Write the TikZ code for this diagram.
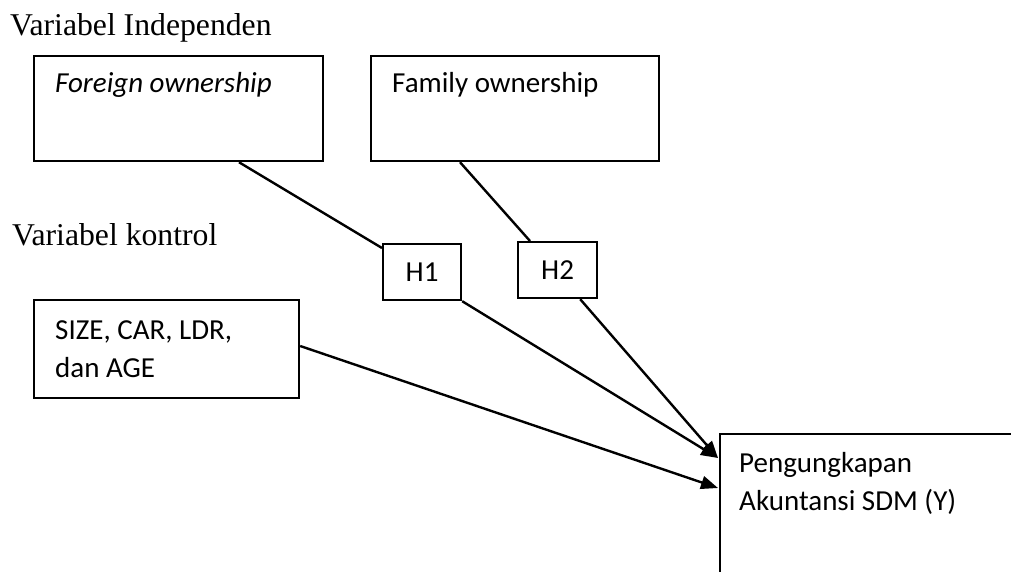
\documentclass[tikz,border=0pt]{standalone}
\usepackage{fontspec}
\setmainfont{Liberation Serif}
\newfontfamily\calfont{Carlito}
\usetikzlibrary{arrows.meta,calc}
\begin{document}
\begin{tikzpicture}[x=1pt,y=-1pt,
  box/.style={draw, line width=2.2pt, rectangle, inner sep=0pt, anchor=north west},
  btxt/.style={font=\calfont\fontsize{29}{38}\selectfont, inner sep=0pt, anchor=base west, align=left},
  htxt/.style={font=\calfont\fontsize{29}{38}\selectfont},
  ttl/.style={font=\fontsize{31.7}{38}\selectfont, inner sep=0pt, anchor=base west},
  conn/.style={line width=2.4pt},
  arr/.style={line width=2.4pt, -{Triangle[length=17pt,width=13pt]}}]
\useasboundingbox (0,0) rectangle (1011,571);
\clip (0,0) rectangle (1011,571);
% titles
\node[ttl] (t1) at (10,35) {Variabel Independen};
\node[ttl] (t2) at (12,245) {Variabel kontrol};
% boxes
\node[box, minimum width=289pt, minimum height=105pt] (fo) at (33,55) {};
\node[btxt] (fot) at (55,92) {\itshape Foreign ownership};
\node[box, minimum width=288pt, minimum height=105pt] (fa) at (370,55) {};
\node[btxt] (fat) at (392,92) {Family ownership};
\node[box, htxt, minimum width=78pt, minimum height=56pt] (h1) at (382,243) {H1};
\node[box, htxt, minimum width=79pt, minimum height=56pt] (h2) at (517,241) {H2};
\node[box, minimum width=265pt, minimum height=98pt] (sz) at (33,299) {};
\node[btxt] (szt) at (55,377) {SIZE, CAR, LDR,\\dan AGE};
\node[box, minimum width=340pt, minimum height=200pt] (y) at (719,433) {};
\node[btxt] (yt) at (739,510) {Pengungkapan\\Akuntansi SDM (Y)};
% connectors
\draw[conn] ($(fo.south west)+(206,0)$) -- ($(h1.north west)+(0,5)$);
\draw[conn] ($(fa.south west)+(90,0)$) -- ($(h2.north west)+(13,0)$);
\draw[arr] (h1.south east) -- ($(y.north west)+(-1,25)$);
\draw[arr] ($(h2.south east)+(-18,0)$) -- ($(y.north west)+(-1,25)$);
\draw[arr] ($(sz.north east)+(0,47)$) -- ($(y.north west)+(-1,55)$);
\end{tikzpicture}
\end{document}
